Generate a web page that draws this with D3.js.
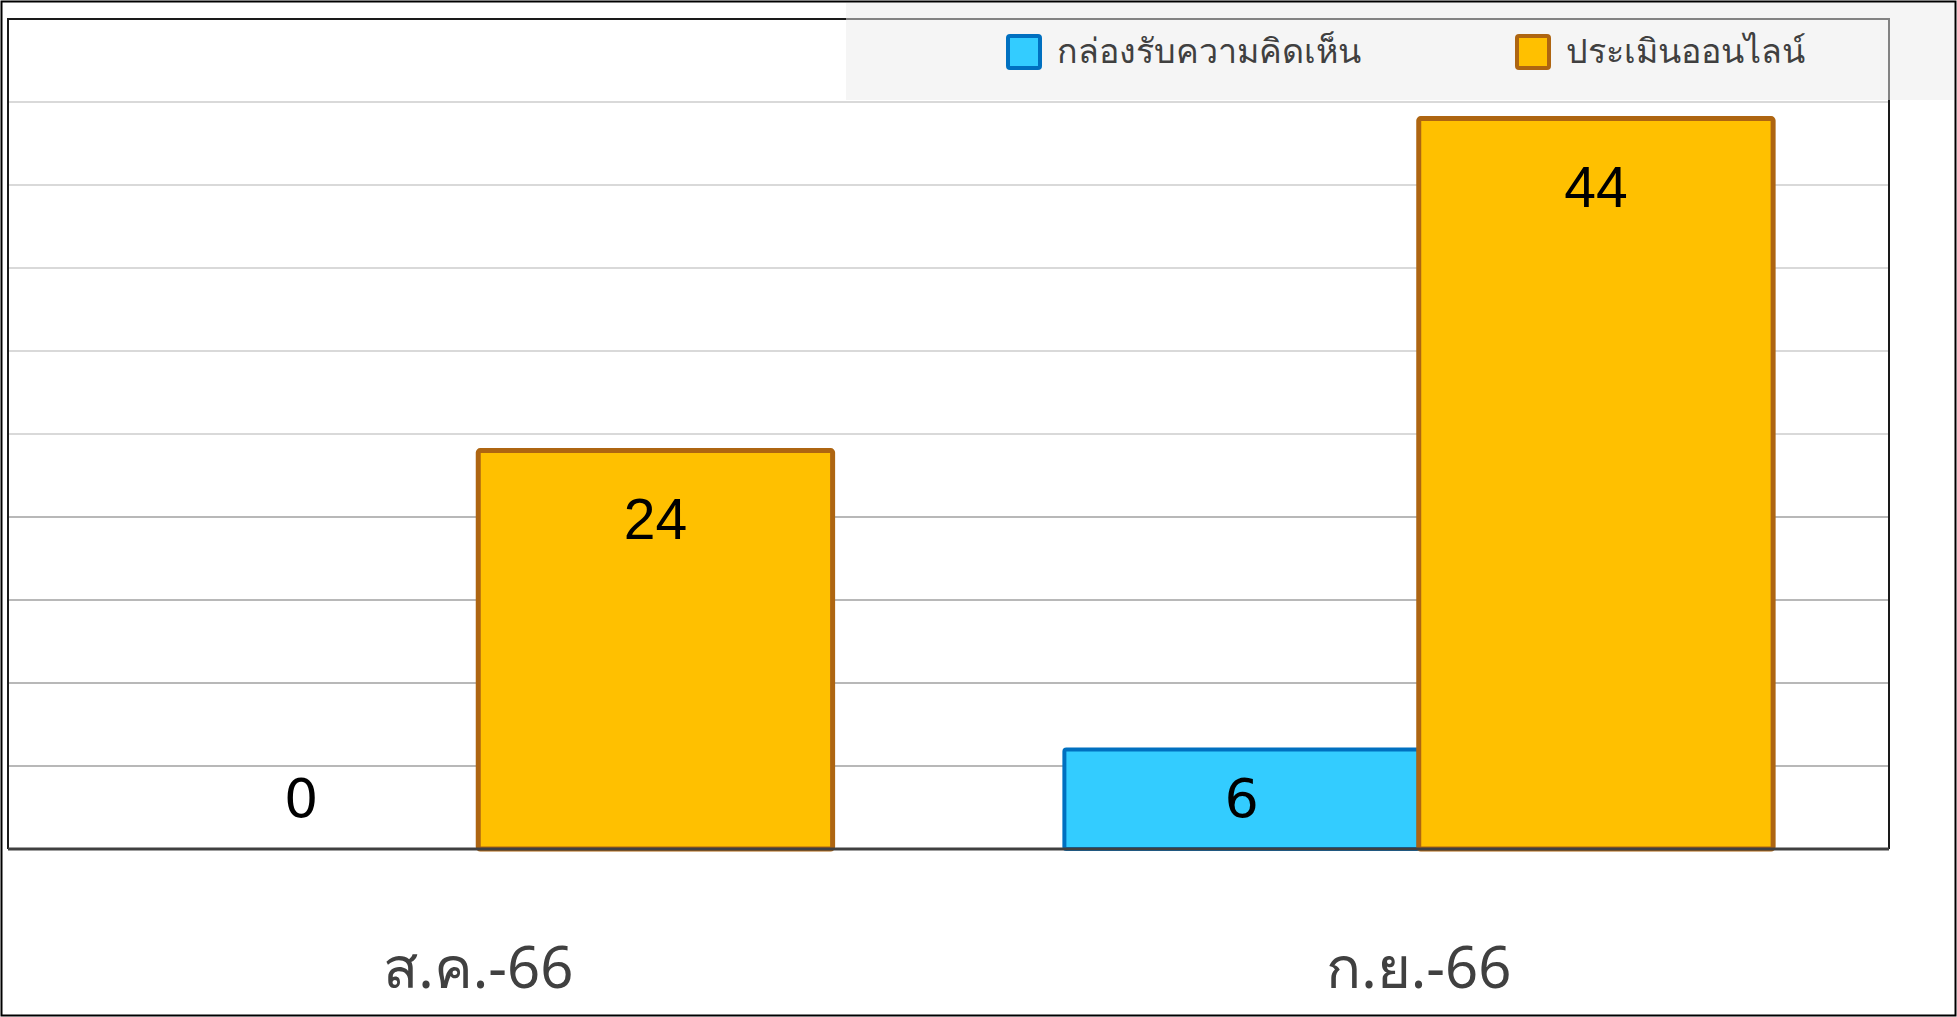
<!DOCTYPE html>
<html>
<head>
<meta charset="utf-8">
<script src="https://cdn.jsdelivr.net/npm/d3@7"></script>
<style>
  body { margin: 0; background: #fff; }
  svg { display: block; }
</style>
</head>
<body>
<div id="chart"></div>
<script>
// data
var categories = ["ส.ค.-66", "ก.ย.-66"];
var seriesNames = ["กล่องรับความคิดเห็น", "ประเมินออนไลน์"];
var commentBox = [0, 6];
var onlineEval = [24, 44];
var gridValues = [5, 10, 15, 20, 25, 30, 35, 40, 45, 50];

var fills = ["#33CCFF", "#FFC000"];
var strokes = ["#0070C0", "#AE6511"];
var strokeWidths = [4, 5];

var dim = { width: 1957, height: 1017 };
var plot = { left: 8, right: 1889, top: 19, bottom: 849 };

var svg = d3.select("#chart").append("svg")
    .attr("width", dim.width)
    .attr("height", dim.height);

// outer frame
svg.append("rect")
    .attr("x", 1.5).attr("y", 1.5)
    .attr("width", dim.width - 3).attr("height", dim.height - 3)
    .attr("fill", "#fff")
    .attr("stroke", "#000")
    .attr("stroke-width", 2);

var x0 = d3.scaleBand()
    .domain(categories)
    .range([plot.left, plot.right])
    .padding(0);

var x1 = d3.scaleBand()
    .domain(seriesNames)
    .range([0, x0.bandwidth()])
    .paddingInner(0)
    .paddingOuter(0.327);

var y = d3.scaleLinear()
    .domain([0, 50])
    .range([plot.bottom, plot.top]);

// gridlines
svg.append("g").selectAll("line")
    .data(gridValues).enter()
    .append("line")
    .attr("x1", plot.left).attr("x2", plot.right)
    .attr("y1", d => y(d)).attr("y2", d => y(d))
    .attr("stroke", d => d <= 20 ? "#b8b8b8" : "#d9d9d9")
    .attr("stroke-width", 2);

// plot frame (left, top, right)
svg.append("path")
    .attr("d", `M${plot.left},${plot.bottom}V${plot.top}H${plot.right}V${plot.bottom}`)
    .attr("fill", "none")
    .attr("stroke", "#1a1a1a")
    .attr("stroke-width", 2);

// legend background sits over the frame
svg.append("rect")
    .attr("x", 846).attr("y", 3)
    .attr("width", dim.width - 849).attr("height", 97)
    .attr("fill", "#ececec")
    .attr("opacity", 0.5);

var rows = categories.map((c, i) => ({
    cat: c,
    values: [
        { name: seriesNames[0], value: commentBox[i], s: 0 },
        { name: seriesNames[1], value: onlineEval[i], s: 1 }
    ]
}));

var groups = svg.append("g").selectAll("g")
    .data(rows).enter()
    .append("g")
    .attr("transform", d => `translate(${x0(d.cat)},0)`);

groups.selectAll("rect")
    .data(d => d.values.filter(v => v.value > 0)).enter()
    .append("rect")
    .attr("x", d => x1(d.name))
    .attr("y", d => y(d.value))
    .attr("width", x1.bandwidth())
    .attr("height", d => y(0) - y(d.value))
    .attr("rx", 2)
    .attr("fill", d => fills[d.s])
    .attr("stroke", d => strokes[d.s])
    .attr("stroke-width", d => strokeWidths[d.s]);

// baseline
svg.append("line")
    .attr("x1", plot.left).attr("x2", plot.right)
    .attr("y1", y(0)).attr("y2", y(0))
    .attr("stroke", "#404040")
    .attr("stroke-width", 3);

// value labels
groups.selectAll("text")
    .data(d => d.values).enter()
    .append("text")
    .attr("x", d => x1(d.name) + x1.bandwidth() / 2)
    .attr("y", d => Math.min(y(d.value) + 67, y(0) - 53) + 21)
    .attr("text-anchor", "middle")
    .style("font-family", d => d.value < 10 ? "'DejaVu Sans', sans-serif" : "'Liberation Sans', Arial, sans-serif")
    .style("font-size", d => d.value < 10 ? "54px" : "57px")
    .attr("fill", "#000")
    .text(d => d.value);

// category labels
svg.append("g").selectAll("text")
    .data(categories).enter()
    .append("text")
    .attr("x", d => x0(d) + x0.bandwidth() / 2)
    .attr("y", 988)
    .attr("text-anchor", "middle")
    .style("font-family", "'Noto Sans', 'DejaVu Sans', sans-serif")
    .style("font-size", "58px")
    .attr("fill", "#404040")
    .text(d => d);

// legend
var legendX = [1008, 1517];
var legend = svg.append("g").selectAll("g")
    .data(seriesNames).enter()
    .append("g")
    .attr("transform", (d, i) => `translate(${legendX[i]},36)`);

legend.append("rect")
    .attr("width", 32).attr("height", 32)
    .attr("rx", 2)
    .attr("fill", (d, i) => fills[i])
    .attr("stroke", (d, i) => strokes[i])
    .attr("stroke-width", 4);

legend.append("text")
    .attr("x", 49)
    .attr("y", 27)
    .style("font-family", "'Noto Sans', 'DejaVu Sans', sans-serif")
    .style("font-size", "34px")
    .attr("fill", "#404040")
    .text(d => d);
</script>
</body>
</html>
